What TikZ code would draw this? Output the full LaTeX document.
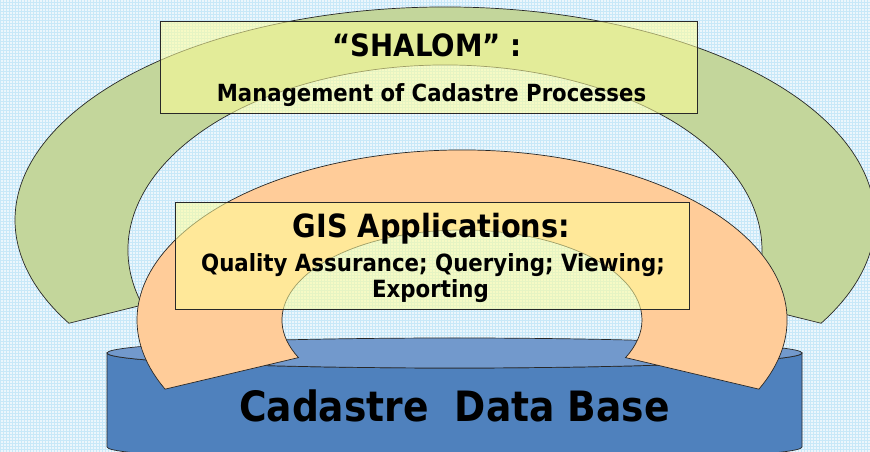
\documentclass[tikz,border=0pt]{standalone}
\usepackage{fontspec}
\setmainfont{DejaVu Sans Condensed}
\usetikzlibrary{calc}
\definecolor{bgblue}{RGB}{236,246,252}
\definecolor{gridc}{RGB}{200,232,248}
\definecolor{greenarc}{RGB}{195,214,155}
\definecolor{orangearc}{RGB}{255,204,153}
\definecolor{dbblue}{RGB}{79,129,189}
\definecolor{dbtop}{RGB}{114,153,204}
\definecolor{boxyellow}{RGB}{255,255,153}
\definecolor{edge}{RGB}{40,40,40}
\begin{document}
\begin{tikzpicture}[x=1pt,y=1pt,
  outl/.style={draw=edge, line width=0.7pt},
  boxst/.style={draw=edge, line width=0.8pt, fill=boxyellow, fill opacity=0.55, inner sep=0pt},
  lbl/.style={inner sep=0pt, anchor=base, font=\bfseries}]
\useasboundingbox (0,0) rectangle (870,452);
\clip (0,0) rectangle (870,452);
\fill[bgblue] (0,0) rectangle (870,452);
\draw[gridc, line width=0.5pt, step=3pt] (0,0) grid (870,452);
% green arc
\coordinate (gc) at (445,232);
\coordinate (gi) at (445,202);
\filldraw[fill=greenarc, outl] ($(gc)+(-29:430pt and 213pt)$)
  arc[start angle=-29, end angle=209, x radius=430pt, y radius=213pt]
  -- ($(gi)+(197.3:317pt and 185pt)$)
  arc[start angle=197.3, end angle=-17.3, x radius=317pt, y radius=185pt] -- cycle;
% cylinder
\coordinate (cyt) at (454.5,99);
\filldraw[fill=dbblue, outl] (107,99) -- (107,5)
  arc[start angle=180, end angle=360, x radius=347.5pt, y radius=15pt]
  -- (802,99)
  arc[start angle=360, end angle=180, x radius=347.5pt, y radius=15pt] -- cycle;
\filldraw[fill=dbtop, outl] (cyt) ellipse[x radius=347.5pt, y radius=15pt];
% orange arc
\coordinate (oc) at (462,132);
\filldraw[fill=orangearc, outl] ($(oc)+(-24:325pt and 170pt)$)
  arc[start angle=-24, end angle=204, x radius=325pt, y radius=170pt]
  -- ($(oc)+(204.7:180pt and 90pt)$)
  arc[start angle=204.7, end angle=-24.7, x radius=180pt, y radius=90pt] -- cycle;
% boxes
\node[boxst, minimum width=537pt, minimum height=92pt] (box1) at (428.5,385) {};
\node[boxst, minimum width=514pt, minimum height=107pt] (box2) at (432,196.5) {};
% texts
\node[lbl] (t1) at (427,395) {\fontsize{30.7}{36}\selectfont “SHALOM” :};
\node[lbl] (t2) at (431.5,350) {\fontsize{23.6}{28}\selectfont Management of Cadastre Processes};
\node[lbl] (t3) at (431.5,214) {\fontsize{32}{38}\selectfont GIS Applications:};
\node[lbl] (t4) at (433,180) {\fontsize{23.7}{28}\selectfont Quality Assurance; Querying; Viewing;};
\node[lbl] (t5) at (430.5,154) {\fontsize{23.7}{28}\selectfont Exporting};
\node[lbl] (t6) at (454.5,30) {\fontsize{41.8}{48}\selectfont Cadastre\ \ Data Base};
\end{tikzpicture}
\end{document}
